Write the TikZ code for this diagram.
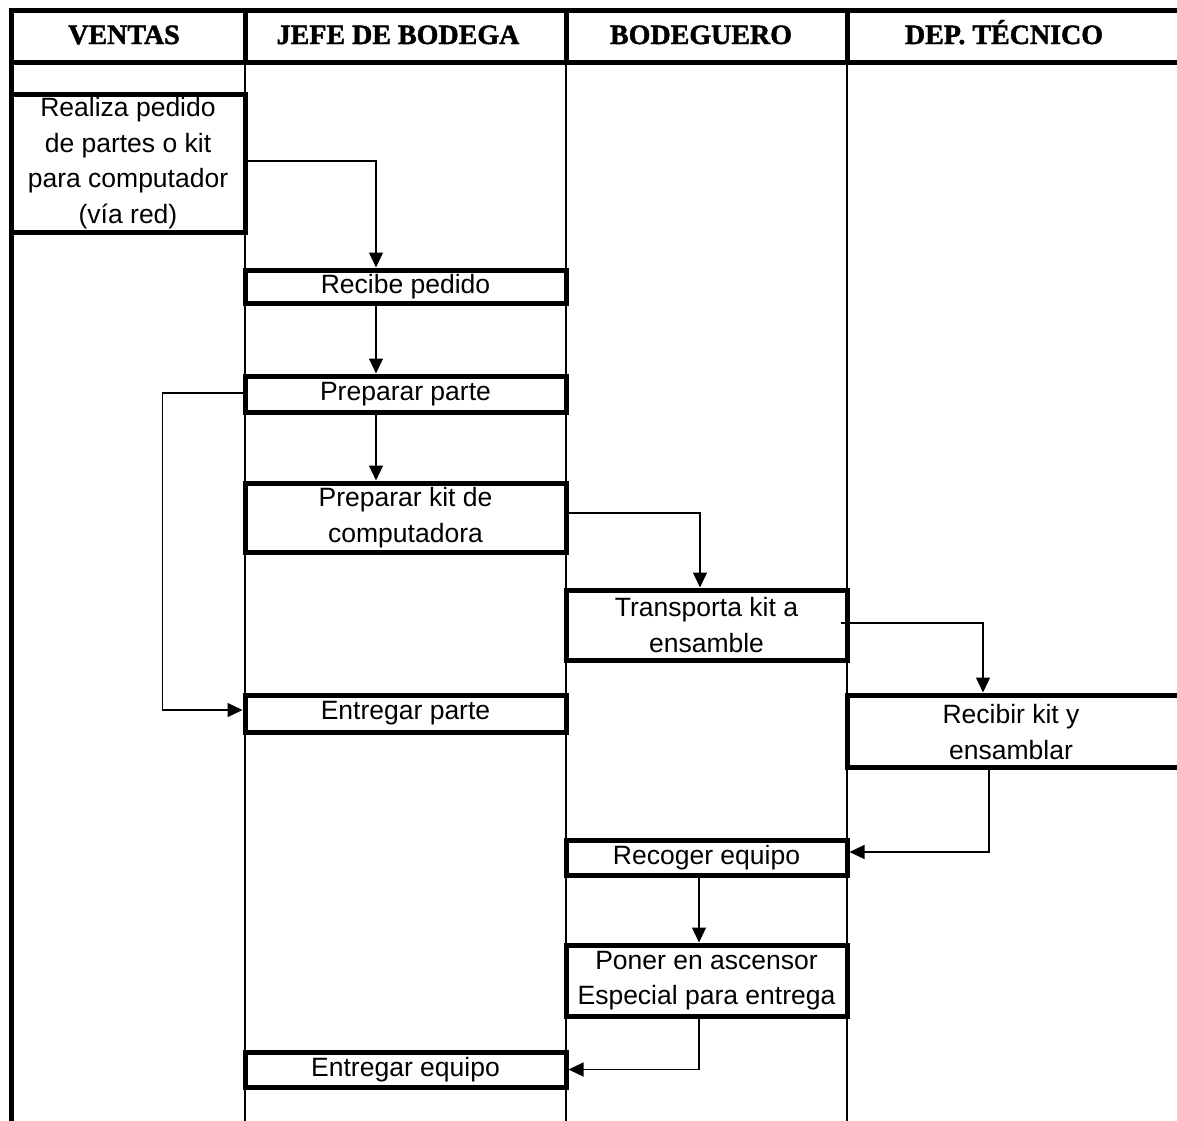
\documentclass[tikz,border=0pt]{standalone}
\usepackage{fontspec}
\setmainfont{Liberation Sans}
\newfontfamily\headfont[BoldFeatures={FakeBold=1.6}]{Liberation Serif}
\usetikzlibrary{arrows.meta}
\begin{document}
\begin{tikzpicture}[x=1pt,y=-1pt,
  box/.style={draw, line width=5pt, fill=white, inner sep=0pt, align=center, font=\fontsize{26.5}{35.5}\selectfont},
  btext/.style={inner sep=0pt, align=center, font=\fontsize{26.5}{35.5}\selectfont},
  head/.style={font=\headfont\bfseries\fontsize{28}{30}\selectfont, inner sep=0pt, anchor=base},
  lane/.style={line width=2.5pt},
  frame/.style={line width=5pt},
  conn/.style={line width=1.2pt, -{Triangle[width=14pt,length=15pt]}}]
\useasboundingbox (0,0) rectangle (1177,1120);
% frame and lanes
\draw[frame] (8.5,10) -- (1180,10);
\draw[frame] (11,62) -- (1180,62);
\draw[frame] (11,7.5) -- (11,1122);
\foreach \x in {245,566,847} {
  \draw[frame] (\x,10) -- (\x,62);
  \draw[lane] (\x,62) -- (\x,1122);
}
% headers
\node[head] (h1) at (124,44) {VENTAS};
\node[head] (h2) at (398,44) {JEFE DE BODEGA};
\node[head] (h3) at (701,44) {BODEGUERO};
\node[head] (h4) at (1004,44) {DEP. TÉCNICO};
% boxes
\node[box, minimum width=234, minimum height=138] (re) at (128,163) {Realiza pedido\\de partes o kit\\para computador\\(vía red)};
\node[box, minimum width=321, minimum height=33] (rp) at (405.5,286.5) {Recibe pedido};
\node[box, minimum width=321, minimum height=36] (pp) at (405.5,394) {Preparar parte};
\node[box, minimum width=321, minimum height=69] (pk) at (405.5,517.5) {Preparar kit de\\computadora};
\node[box, minimum width=281, minimum height=70] (tk) at (706.5,625) {Transporta kit a\\ensamble};
\node[box, minimum width=321, minimum height=37] (ep) at (405.5,713.5) {Entregar parte};
\node[box, minimum width=343, minimum height=72] (rk) at (1018.5,731) {};
\node[btext] (rkt) at (1011,732) {Recibir kit y\\ensamblar};
\node[box, minimum width=281, minimum height=35] (rq) at (706.5,857.5) {Recoger equipo};
\node[box, minimum width=281, minimum height=71] (po) at (706.5,980.5) {Poner en ascensor\\Especial para entrega};
\node[box, minimum width=321, minimum height=35] (eq) at (405.5,1069.5) {Entregar equipo};
% connectors
\draw[conn] ([yshift=2pt]re.east) -| ([xshift=-29.5pt]rp.north);
\draw[conn] ([xshift=-29.5pt]rp.south) -- ([xshift=-29.5pt]pp.north);
\draw[conn] ([xshift=-29.5pt]pp.south) -- ([xshift=-29.5pt]pk.north);
\draw[conn] ([yshift=4.5pt]pk.east) -| ([xshift=-6.5pt]tk.north);
\draw[conn] ([xshift=-9pt,yshift=2pt]tk.east) -| ([xshift=-35.5pt]rk.north);
\draw[conn] ([xshift=-29.5pt,yshift=4pt]rk.south) |- ([yshift=5.5pt]rq.east);
\draw[conn] ([xshift=-7.5pt]rq.south) -- ([xshift=-7.5pt]po.north);
\draw[conn] ([xshift=-7.5pt]po.south) |- (eq.east);
\draw[conn] ([yshift=1pt]pp.west) -- ++(-80,0) coordinate (lk) |- ([yshift=3.5pt]ep.west);
\end{tikzpicture}
\end{document}
